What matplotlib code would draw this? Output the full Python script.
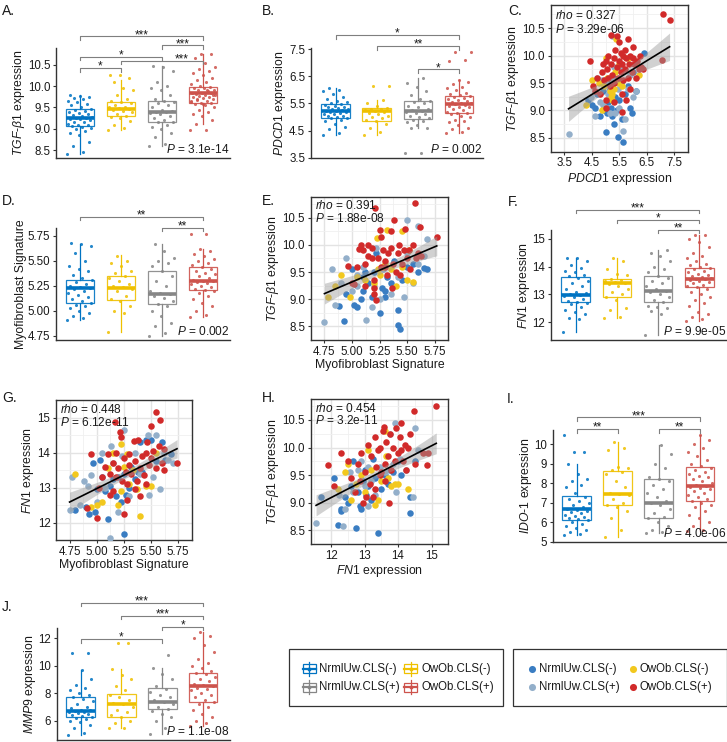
import numpy as np
import matplotlib
matplotlib.use("Agg")
import matplotlib.pyplot as plt
from matplotlib.patches import Rectangle

plt.rcParams['font.family'] = ['Liberation Sans', 'DejaVu Sans']
plt.rcParams['mathtext.fontset'] = 'custom'
plt.rcParams['mathtext.rm'] = 'Liberation Sans'
plt.rcParams['mathtext.it'] = 'Liberation Sans:italic'

# ---------------- data ----------------
groups = ['NrmlUw.CLS(-)', 'OwOb.CLS(-)', 'NrmlUw.CLS(+)', 'OwOb.CLS(+)']
box_colors = ['#0073C2', '#EFC000', '#868686', '#CD534C']
dot_colors = ['#3A7DC2', '#F2C81E', '#93AFCA', '#D12A2A']

# box stats per group: (whisker low, q1, median, q3, whisker high)
tgf_stats = [(8.42, 9.06, 9.25, 9.46, 9.79), (8.98, 9.29, 9.46, 9.64, 10.14),
             (8.59, 9.17, 9.40, 9.65, 10.48), (9.12, 9.60, 9.83, 9.97, 10.75)]
tgf_pts = [
    [8.42, 8.45, 8.6, 8.7, 8.85, 8.9, 8.95, 9.0, 9.02, 9.05, 9.06, 9.08, 9.1, 9.12, 9.15, 9.17, 9.2, 9.22, 9.23, 9.25,
     9.25, 9.27, 9.3, 9.32, 9.35, 9.37, 9.4, 9.42, 9.45, 9.46, 9.5, 9.55, 9.58, 9.62, 9.65, 9.7, 9.72, 9.75, 9.78, 9.79],
    [8.98, 9.02, 9.1, 9.18, 9.25, 9.28, 9.3, 9.35, 9.4, 9.42, 9.45, 9.46, 9.48, 9.5, 9.52, 9.55, 9.6, 9.62, 9.65, 9.7,
     9.8, 9.9, 9.95, 10.1, 10.2, 10.25, 10.25],
    [8.6, 8.65, 8.8, 8.9, 9.0, 9.05, 9.1, 9.15, 9.17, 9.2, 9.25, 9.3, 9.35, 9.38, 9.4, 9.4, 9.42, 9.45, 9.5, 9.55,
     9.6, 9.62, 9.65, 9.7, 9.8, 9.9, 9.95, 10.0, 10.1, 10.35, 10.45, 10.48],
    [8.98, 8.98, 9.12, 9.2, 9.3, 9.35, 9.4, 9.45, 9.5, 9.55, 9.58, 9.6, 9.6, 9.62, 9.65, 9.68, 9.7, 9.72, 9.75, 9.75,
     9.78, 9.8, 9.8, 9.82, 9.83, 9.85, 9.85, 9.88, 9.9, 9.92, 9.95, 9.96, 9.97, 10.0, 10.05, 10.1, 10.15, 10.2, 10.25,
     10.3, 10.35, 10.4, 10.45, 10.55, 10.65, 10.75, 10.75, 9.65, 9.9, 9.7, 9.8, 9.58],
]
tgf_sig = [(1, 4, '***'), (3, 4, '***'), (1, 3, '*'), (2, 4, '***'), (1, 2, '*')]
tgf_p = '3.1e-14'

pdcd1_stats = [(4.33, 4.98, 5.22, 5.46, 6.05), (4.33, 4.86, 5.22, 5.32, 5.62),
               (4.58, 4.91, 5.22, 5.59, 6.42), (4.40, 5.13, 5.48, 5.77, 6.36)]
pdcd1_pts = [
    [4.33, 4.4, 4.55, 4.65, 4.75, 4.85, 4.9, 4.95, 4.98, 5.0, 5.02, 5.05, 5.1, 5.12, 5.15, 5.18, 5.2, 5.22, 5.22, 5.25,
     5.28, 5.3, 5.32, 5.35, 5.38, 5.4, 5.45, 5.46, 5.5, 5.55, 5.6, 5.65, 5.75, 5.85, 5.95, 6.0, 6.05],
    [4.33, 4.45, 4.6, 4.75, 4.85, 4.9, 4.95, 5.0, 5.05, 5.1, 5.15, 5.2, 5.22, 5.25, 5.28, 5.3, 5.32, 5.4, 5.5, 5.62,
     6.15, 6.15],
    [3.67, 3.67, 4.58, 4.6, 4.7, 4.8, 4.85, 4.9, 4.95, 5.0, 5.05, 5.1, 5.15, 5.2, 5.22, 5.25, 5.3, 5.35, 5.4, 5.5,
     5.55, 5.6, 5.65, 5.8, 5.95, 6.1, 6.25, 6.42],
    [4.40, 4.45, 4.55, 4.6, 4.7, 4.8, 4.85, 4.9, 5.0, 5.05, 5.1, 5.13, 5.15, 5.2, 5.25, 5.3, 5.35, 5.38, 5.4, 5.45,
     5.48, 5.5, 5.52, 5.55, 5.6, 5.62, 5.65, 5.7, 5.75, 5.77, 5.8, 5.85, 5.9, 6.0, 6.05, 6.1, 6.2, 6.3, 6.36, 7.05,
     7.1, 7.4, 7.4],
]
pdcd1_sig = [(1, 4, '*'), (2, 4, '**'), (3, 4, '*')]
pdcd1_p = '0.002'

myo_stats = [(4.907, 5.08, 5.233, 5.313, 5.67), (4.79, 5.113, 5.233, 5.35, 5.557),
             (4.75, 5.063, 5.167, 5.397, 5.667), (4.94, 5.207, 5.297, 5.437, 5.623)]
myo_pts = [
    [4.91, 4.93, 4.95, 4.98, 5.0, 5.03, 5.05, 5.06, 5.08, 5.1, 5.12, 5.14, 5.16, 5.18, 5.2, 5.22, 5.23, 5.24, 5.25,
     5.27, 5.29, 5.31, 5.33, 5.36, 5.4, 5.42, 5.45, 5.5, 5.58, 5.65, 5.67, 5.68],
    [4.79, 4.98, 5.0, 5.05, 5.1, 5.12, 5.15, 5.2, 5.22, 5.24, 5.25, 5.27, 5.3, 5.33, 5.35, 5.38, 5.4, 5.45, 5.48,
     5.5, 5.55],
    [4.75, 4.78, 4.85, 4.88, 4.95, 5.0, 5.05, 5.07, 5.1, 5.13, 5.15, 5.17, 5.18, 5.2, 5.25, 5.3, 5.35, 5.4, 5.45,
     5.48, 5.5, 5.53, 5.6, 5.67],
    [4.94, 4.96, 5.0, 5.05, 5.08, 5.12, 5.15, 5.18, 5.2, 5.21, 5.22, 5.24, 5.25, 5.27, 5.28, 5.29, 5.3, 5.3, 5.31,
     5.33, 5.35, 5.37, 5.38, 5.4, 5.42, 5.44, 5.46, 5.48, 5.5, 5.52, 5.55, 5.57, 5.6, 5.62, 5.77, 5.77],
]
myo_sig = [(1, 4, '**'), (3, 4, '**')]
myo_p = '0.002'

fn1_stats = [(11.65, 12.73, 12.98, 13.64, 14.30), (12.16, 12.92, 13.40, 13.54, 14.30),
             (11.53, 12.71, 13.13, 13.66, 14.60), (12.04, 13.28, 13.55, 13.94, 15.14)]
fn1_pts = [
    [11.65, 12.1, 12.15, 12.3, 12.35, 12.45, 12.55, 12.65, 12.7, 12.73, 12.78, 12.85, 12.9, 12.95, 12.98, 13.0,
     13.05, 13.1, 13.2, 13.3, 13.4, 13.5, 13.6, 13.65, 13.7, 13.8, 13.85, 13.95, 14.05, 14.2, 14.3, 14.3],
    [12.16, 12.2, 12.45, 12.5, 12.8, 12.92, 13.0, 13.1, 13.2, 13.3, 13.38, 13.4, 13.45, 13.5, 13.52, 13.54, 13.7,
     13.75, 13.9, 14.2, 14.3],
    [11.53, 12.3, 12.4, 12.5, 12.55, 12.6, 12.71, 12.8, 12.9, 13.0, 13.1, 13.13, 13.2, 13.3, 13.4, 13.5, 13.6,
     13.66, 13.8, 13.9, 14.0, 14.2, 14.4, 14.5, 14.6],
    [12.04, 12.1, 12.2, 12.3, 12.35, 12.6, 12.7, 12.8, 12.9, 13.0, 13.1, 13.2, 13.28, 13.3, 13.35, 13.4, 13.45,
     13.5, 13.52, 13.55, 13.55, 13.6, 13.62, 13.65, 13.7, 13.75, 13.8, 13.85, 13.9, 13.94, 14.0, 14.05, 14.1, 14.2,
     14.3, 14.4, 14.5, 14.7, 14.9, 15.0, 15.14, 15.14],
]
fn1_sig = [(1, 4, '***'), (2, 4, '*'), (3, 4, '**')]
fn1_p = '9.9e-05'

ido_stats = [(5.36, 6.10, 6.66, 7.34, 8.98), (5.25, 6.88, 7.46, 8.61, 10.14),
             (5.44, 6.24, 7.00, 8.22, 9.97), (5.56, 7.08, 7.85, 8.83, 10.47)]
ido_pts = [
    [5.36, 5.4, 5.5, 5.6, 5.7, 5.8, 5.9, 6.0, 6.1, 6.15, 6.2, 6.3, 6.35, 6.4, 6.5, 6.55, 6.6, 6.65, 6.7, 6.8, 6.9,
     7.0, 7.1, 7.2, 7.3, 7.5, 7.8, 7.9, 8.1, 8.2, 8.5, 8.98, 9.6, 9.6, 10.45],
    [5.25, 5.6, 6.2, 6.6, 6.8, 6.9, 7.0, 7.2, 7.4, 7.46, 7.5, 7.8, 8.1, 8.5, 8.6, 8.7, 8.8, 8.85, 9.7, 9.8, 10.14],
    [5.44, 5.5, 5.6, 5.8, 6.0, 6.2, 6.3, 6.5, 6.7, 6.9, 7.0, 7.1, 7.3, 7.5, 7.7, 7.9, 8.1, 8.2, 8.3, 8.8, 9.0, 9.5,
     9.97],
    [5.56, 5.6, 5.8, 6.0, 6.2, 6.4, 6.6, 6.8, 6.9, 7.0, 7.08, 7.2, 7.3, 7.4, 7.5, 7.6, 7.7, 7.75, 7.8, 7.85, 7.9,
     8.0, 8.1, 8.2, 8.3, 8.4, 8.5, 8.6, 8.7, 8.8, 8.9, 9.0, 9.2, 9.4, 9.6, 9.8, 10.0, 10.2, 10.47],
]
ido_sig = [(1, 4, '***'), (1, 2, '**'), (3, 4, '**')]
ido_p = '4.0e-06'

mmp9_stats = [(4.92, 6.30, 6.67, 7.71, 9.70), (5.45, 6.30, 7.22, 7.93, 9.77),
              (5.04, 6.83, 7.34, 8.36, 9.82), (5.62, 7.34, 8.53, 9.46, 12.44)]
mmp9_pts = [
    [4.92, 5.1, 5.5, 5.7, 5.9, 6.0, 6.1, 6.2, 6.3, 6.35, 6.4, 6.5, 6.55, 6.6, 6.65, 6.7, 6.75, 6.8, 6.9, 7.0, 7.2,
     7.4, 7.6, 7.7, 7.9, 8.0, 8.2, 8.4, 8.6, 9.0, 9.7, 10.9, 10.9],
    [5.45, 5.5, 5.8, 6.0, 6.3, 6.4, 6.6, 6.8, 7.0, 7.2, 7.3, 7.5, 7.7, 7.9, 8.2, 8.5, 9.0, 9.3, 9.77, 11.65, 11.65],
    [5.04, 5.5, 6.0, 6.3, 6.5, 6.7, 6.83, 7.0, 7.2, 7.34, 7.5, 7.7, 7.9, 8.1, 8.3, 8.5, 9.0, 9.4, 9.82, 10.8],
    [5.62, 5.8, 6.0, 6.3, 6.5, 6.8, 7.0, 7.2, 7.34, 7.5, 7.7, 7.9, 8.0, 8.2, 8.3, 8.4, 8.5, 8.6, 8.7, 8.9, 9.0, 9.2,
     9.4, 9.46, 9.6, 9.8, 10.0, 10.2, 10.5, 11.0, 11.5, 12.0, 12.2, 12.44],
]
mmp9_sig = [(1, 4, '***'), (2, 4, '***'), (3, 4, '*'), (1, 3, '*')]
mmp9_p = '1.1e-08'

# scatter panels: (x, y) per group in order blue, yellow, light blue, red
c_pts = [
    [(4.35, 9.2), (4.5, 9.1), (4.6, 9.05), (4.7, 9.3), (4.8, 8.9), (4.9, 9.35), (4.95, 9.0), (5.0, 8.6), (5.05, 8.95),
     (5.1, 9.15), (5.15, 9.4), (5.2, 9.05), (5.25, 8.9), (5.3, 8.75), (5.35, 9.25), (5.4, 9.0), (5.45, 8.52),
     (5.5, 9.2), (5.55, 9.5), (5.6, 8.85), (5.65, 8.43), (5.7, 9.3), (5.8, 9.45), (5.9, 9.05), (5.95, 8.95),
     (6.0, 9.7), (6.1, 9.35), (6.3, 9.8), (6.4, 10.05), (5.05, 9.55), (5.3, 9.6)],
    [(4.3, 9.1), (4.5, 9.55), (4.75, 9.5), (4.85, 9.0), (4.95, 9.45), (5.0, 9.95), (5.05, 9.6), (5.15, 9.35),
     (5.2, 9.25), (5.25, 9.3), (5.3, 9.4), (5.35, 9.7), (5.38, 10.3), (5.45, 9.5), (5.5, 9.85), (5.6, 9.45),
     (6.1, 9.85), (6.2, 9.65), (5.8, 9.95), (5.25, 9.2)],
    [(3.65, 8.58), (4.45, 9.25), (4.6, 8.9), (4.7, 9.6), (4.8, 9.15), (4.9, 9.1), (5.0, 9.5), (5.1, 9.3), (5.2, 9.6),
     (5.25, 10.35), (5.35, 8.95), (5.4, 9.55), (5.5, 9.05), (5.55, 9.75), (5.65, 8.62), (5.7, 8.85), (5.8, 9.4),
     (5.9, 9.65), (6.0, 9.25), (6.1, 9.35), (4.85, 9.55), (5.15, 8.95), (5.3, 9.8), (5.45, 9.4)],
    [(4.42, 9.9), (4.55, 9.45), (4.6, 9.35), (4.7, 9.6), (4.8, 9.3), (4.85, 9.7), (4.9, 9.85), (4.95, 9.55),
     (5.0, 9.9), (5.0, 9.2), (5.05, 9.75), (5.1, 9.6), (5.1, 10.0), (5.15, 9.45), (5.2, 9.85), (5.2, 10.38),
     (5.25, 9.65), (5.3, 9.95), (5.3, 9.5), (5.35, 10.1), (5.4, 9.8), (5.42, 10.35), (5.45, 9.6), (5.48, 10.25),
     (5.5, 9.9), (5.55, 9.7), (5.55, 10.05), (5.6, 9.85), (5.6, 9.3), (5.62, 10.0), (5.65, 9.55), (5.7, 9.75),
     (5.7, 10.1), (5.75, 9.95), (5.8, 9.6), (5.8, 10.3), (5.85, 9.85), (5.9, 10.0), (5.9, 9.4), (5.95, 9.7),
     (6.0, 10.15), (6.0, 9.95), (6.05, 9.85), (6.1, 9.6), (6.15, 9.9), (6.2, 9.75), (6.25, 10.0), (6.3, 9.8),
     (5.6, 8.97), (5.3, 9.15), (5.0, 9.05), (7.08, 10.76), (7.33, 10.65), (7.04, 9.92), (6.35, 9.75), (5.75, 9.2)],
]
c_fit = (0.307, 7.91)
c_rho, c_p = '0.327', '3.29e-06'

e_pts = [
    [(4.88, 8.88), (4.93, 8.6), (4.95, 9.1), (5.02, 8.9), (5.05, 8.85), (5.08, 9.0), (5.1, 9.15), (5.12, 9.5),
     (5.15, 9.3), (5.18, 9.05), (5.2, 9.5), (5.22, 9.85), (5.25, 8.75), (5.27, 9.2), (5.3, 9.15), (5.32, 9.4),
     (5.35, 9.3), (5.38, 9.7), (5.42, 8.81), (5.42, 8.52), (5.44, 8.45), (5.45, 9.35), (5.5, 9.6), (5.55, 9.65),
     (5.6, 9.5), (5.65, 9.58), (5.68, 9.55), (5.0, 9.55), (5.1, 9.4), (5.3, 9.05)],
    [(4.78, 9.05), (4.85, 9.25), (4.9, 9.45), (4.98, 9.05), (5.05, 9.4), (5.12, 9.35), (5.2, 9.3), (5.23, 10.12),
     (5.24, 9.55), (5.25, 9.45), (5.3, 9.65), (5.32, 10.27), (5.35, 9.55), (5.4, 9.25), (5.45, 9.6), (5.5, 9.35),
     (5.52, 9.9), (5.55, 9.32), (5.45, 10.25), (5.28, 9.6)],
    [(4.75, 8.58), (4.82, 9.55), (4.85, 8.9), (4.9, 9.3), (4.95, 9.75), (5.0, 9.15), (5.05, 9.45), (5.1, 9.6),
     (5.13, 8.62), (5.18, 8.85), (5.2, 9.25), (5.25, 9.0), (5.28, 9.55), (5.35, 9.1), (5.42, 9.4), (5.47, 9.05),
     (5.5, 9.85), (5.5, 10.45), (5.55, 9.3), (5.6, 9.65), (5.6, 10.35), (5.65, 9.8), (5.68, 10.1), (5.22, 9.95),
     (5.05, 9.25)],
    [(4.96, 9.62), (5.0, 9.3), (5.02, 9.28), (5.05, 9.6), (5.08, 10.0), (5.1, 9.9), (5.12, 9.65), (5.15, 9.8),
     (5.15, 10.0), (5.18, 9.95), (5.2, 9.2), (5.2, 9.1), (5.21, 10.67), (5.22, 8.98), (5.24, 9.75), (5.25, 10.27),
     (5.26, 10.15), (5.28, 9.9), (5.3, 9.6), (5.3, 9.7), (5.32, 9.45), (5.33, 9.85), (5.35, 10.25), (5.35, 9.95),
     (5.37, 9.65), (5.38, 10.45), (5.4, 9.5), (5.42, 9.85), (5.43, 10.0), (5.45, 9.65), (5.47, 9.9), (5.48, 10.3),
     (5.5, 9.75), (5.52, 9.9), (5.53, 9.55), (5.55, 10.0), (5.57, 10.77), (5.58, 9.75), (5.6, 9.85), (5.62, 10.32),
     (5.63, 9.8), (5.77, 10.14), (5.2, 9.35), (5.18, 9.75), (5.26, 9.6), (5.06, 9.92), (5.12, 9.25), (5.44, 9.45),
     (5.36, 9.2)],
]
e_fit = (0.86, 5.018)
e_rho, e_p = '0.391', '1.88e-08'

g_pts = [
    [(4.8, 12.35), (4.9, 12.45), (4.93, 12.25), (4.98, 12.3), (5.0, 12.95), (5.03, 13.8), (5.05, 13.3),
     (5.08, 12.9), (5.1, 12.1), (5.12, 13.05), (5.15, 13.25), (5.18, 12.75), (5.2, 13.3), (5.22, 12.6),
     (5.25, 11.68), (5.27, 12.8), (5.3, 13.0), (5.32, 13.6), (5.35, 13.25), (5.4, 14.3), (5.42, 13.45),
     (5.45, 14.35), (5.5, 14.35), (5.55, 13.75), (5.6, 14.3), (5.63, 13.8), (5.68, 13.95), (4.97, 13.7),
     (5.38, 13.45), (5.25, 13.4)],
    [(4.8, 13.4), (4.95, 12.45), (5.0, 12.5), (5.05, 12.6), (5.1, 13.55), (5.15, 14.0), (5.2, 12.5), (5.22, 14.25),
     (5.25, 13.6), (5.28, 13.95), (5.33, 13.5), (5.37, 12.95), (5.4, 12.2), (5.45, 13.05), (5.5, 13.05),
     (5.55, 14.0), (5.3, 13.1), (5.22, 12.9)],
    [(4.75, 12.35), (4.77, 13.3), (4.85, 12.5), (4.88, 13.2), (4.92, 13.05), (4.95, 13.35), (5.0, 12.6),
     (5.05, 14.0), (5.08, 13.0), (5.12, 11.55), (5.13, 14.2), (5.15, 13.7), (5.2, 12.3), (5.23, 13.9), (5.3, 12.75),
     (5.35, 14.0), (5.4, 13.4), (5.47, 14.5), (5.48, 12.8), (5.52, 13.3), (5.55, 14.5), (5.58, 12.95), (5.62, 14.0),
     (5.66, 13.8), (5.7, 13.7), (5.25, 14.65)],
    [(4.91, 12.41), (4.95, 13.95), (5.0, 12.14), (5.02, 13.0), (5.05, 13.3), (5.08, 13.6), (5.1, 13.95),
     (5.12, 13.4), (5.15, 13.7), (5.15, 12.9), (5.17, 14.86), (5.18, 14.0), (5.2, 13.55), (5.21, 14.59),
     (5.22, 14.45), (5.23, 13.2), (5.25, 13.85), (5.25, 12.23), (5.27, 13.45), (5.28, 13.1), (5.3, 13.65),
     (5.3, 13.95), (5.32, 13.4), (5.34, 14.34), (5.35, 13.75), (5.37, 13.2), (5.38, 14.35), (5.4, 13.55),
     (5.4, 12.75), (5.42, 13.9), (5.44, 13.35), (5.45, 14.0), (5.46, 14.3), (5.48, 13.65), (5.5, 14.75),
     (5.5, 13.85), (5.52, 14.05), (5.55, 15.17), (5.55, 13.55), (5.57, 14.2), (5.58, 14.94), (5.6, 13.7),
     (5.62, 13.5), (5.62, 14.1), (5.74, 13.7), (5.18, 13.3), (5.28, 12.65), (5.35, 12.95), (5.12, 12.8),
     (5.45, 13.1)],
]
g_fit = (1.539, 5.274)
g_rho, g_p = '0.448', '6.12e-11'

h_pts = [
    [(11.7, 9.1), (12.1, 9.45), (12.2, 8.6), (12.3, 8.85), (12.4, 9.1), (12.5, 9.0), (12.6, 9.3), (12.65, 9.75),
     (12.75, 8.55), (12.8, 9.2), (12.85, 8.95), (12.9, 8.88), (12.95, 9.4), (13.0, 9.6), (13.05, 9.15), (13.1, 9.3),
     (13.2, 9.05), (13.3, 9.45), (13.4, 8.45), (13.5, 9.25), (13.6, 9.5), (13.7, 9.35), (13.75, 9.6), (13.85, 9.55),
     (14.0, 9.75), (14.1, 9.5), (14.35, 8.82), (14.35, 9.1), (14.5, 9.75), (12.3, 8.88), (13.25, 9.8)],
    [(12.2, 9.25), (12.4, 9.55), (12.5, 9.7), (12.6, 9.05), (12.75, 9.35), (12.9, 9.5), (13.0, 9.2), (13.1, 9.95),
     (13.2, 9.6), (13.3, 8.97), (13.4, 9.05), (13.5, 9.4), (13.6, 10.3), (13.65, 9.85), (13.8, 9.3), (13.9, 9.35),
     (14.0, 9.35), (14.3, 9.25), (13.7, 9.45)],
    [(11.55, 8.63), (12.25, 9.15), (12.35, 8.58), (12.4, 8.88), (12.55, 9.55), (12.65, 9.2), (12.8, 9.6),
     (12.9, 9.75), (13.0, 9.3), (13.1, 9.65), (13.2, 9.4), (13.3, 9.15), (13.45, 9.65), (13.6, 9.55), (13.75, 10.25),
     (13.85, 9.7), (13.95, 9.2), (14.05, 9.8), (14.25, 9.6), (14.45, 9.1), (14.5, 10.35), (14.6, 9.95),
     (13.9, 10.45), (13.1, 8.95)],
    [(11.9, 9.69), (12.1, 9.3), (12.3, 9.9), (12.5, 9.75), (12.6, 9.45), (12.7, 9.2), (12.8, 9.7), (12.9, 9.9),
     (12.95, 9.0), (13.0, 9.55), (13.1, 10.05), (13.15, 9.35), (13.2, 9.85), (13.25, 9.1), (13.3, 10.2),
     (13.35, 9.65), (13.4, 9.95), (13.45, 10.0), (13.5, 9.55), (13.55, 10.3), (13.57, 10.38), (13.6, 9.7),
     (13.62, 9.4), (13.65, 10.1), (13.7, 9.85), (13.72, 9.0), (13.75, 10.25), (13.8, 9.6), (13.85, 10.0),
     (13.9, 9.75), (13.95, 10.35), (14.0, 9.9), (14.05, 10.2), (14.1, 9.95), (14.15, 9.75), (14.2, 10.05),
     (14.25, 9.6), (14.3, 10.0), (14.35, 10.25), (14.48, 10.67), (14.5, 9.7), (14.75, 9.9), (14.87, 9.69),
     (14.9, 9.9), (15.14, 10.76), (13.3, 9.25), (13.45, 9.5), (12.85, 9.4), (13.05, 9.1), (14.1, 10.45)],
]
h_fit = (0.3127, 5.343)
h_rho, h_p = '0.454', '3.2e-11'

# ---------------- layout ----------------
W, H = 727, 742
fig = plt.figure(figsize=(W / 100, H / 100), dpi=100)

TGF_LAB = r'$\mathit{TGF}$-$\mathit{\beta1}$ expression'
TXT = '#1a1a1a'
AXC = '#333333'


def px_axes(left, right, top, bottom):
    return fig.add_axes([left / W, 1 - bottom / H, (right - left) / W, (bottom - top) / H])


def box_panel(box, xlim, ylim, yticks, fmt, stats, pts, sig, sig_pos, ylabel, pval):
    ax = px_axes(*box)
    bst = [dict(whislo=s[0], q1=s[1], med=s[2], q3=s[3], whishi=s[4], fliers=[]) for s in stats]
    res = ax.bxp(bst, positions=[1, 2, 3, 4], widths=0.7, showcaps=False, showfliers=False,
                 patch_artist=True, manage_ticks=False)
    for i, c in enumerate(box_colors):
        res['boxes'][i].set(facecolor='white', edgecolor=c, linewidth=0.9, alpha=0.9, zorder=2)
        res['medians'][i].set(color=c, linewidth=2.6, zorder=4)
        for w in res['whiskers'][2 * i:2 * i + 2]:
            w.set(color=c, linewidth=0.9, zorder=2)
        vals = np.array(pts[i])
        off = ((np.arange(len(vals)) * 0.618034) % 1 - 0.5) * 0.62
        ax.scatter(i + 1 + off, vals, s=5, color=c, alpha=0.85, linewidths=0, zorder=3)
    ax.set_xlim(*xlim)
    ax.set_ylim(*ylim)
    ax.set_xticks([])
    ax.set_yticks(yticks)
    ax.set_yticklabels([fmt % v for v in yticks])
    ax.tick_params(axis='y', length=2.5, width=0.8, color=AXC, labelsize=8.3, labelcolor=TXT, pad=1.5)
    for s in ['top', 'right']:
        ax.spines[s].set_visible(False)
    for s in ['left', 'bottom']:
        ax.spines[s].set(color=AXC, linewidth=1.0)
    ax.set_ylabel(ylabel, fontsize=8.8, color=TXT, labelpad=0.5)
    tip = 3.5 / (box[3] - box[2]) * (ylim[1] - ylim[0])
    for (a, b, lab), (y, lx) in zip(sig, sig_pos):
        ax.plot([a, a, b, b], [y - tip, y, y, y - tip], color='#7f7f7f', lw=0.8, clip_on=False)
        tx = (a + b) / 2 if lx is None else lx
        ax.annotate(lab, xy=(tx, y), xytext=(0, -1.2), textcoords='offset points',
                    ha='center', va='baseline', fontsize=8.5, color=TXT, annotation_clip=False)
    ax.text(0.995, 0.045, r'$\mathit{P}$ = ' + pval, transform=ax.transAxes, ha='right', va='baseline',
            fontsize=8.6, color=TXT)
    return ax


def scatter_panel(box, xlim, ylim, xticks, yticks, xfmt, yfmt, pts, fit, rho, pval, xlabel, ylabel, ty):
    ax = px_axes(*box)
    ax.set_facecolor('white')
    for i in [0, 2, 1, 3]:
        arr = np.array(pts[i])
        ax.scatter(arr[:, 0], arr[:, 1], s=22, color=dot_colors[i], linewidths=0, zorder=3)
    allp = np.concatenate([np.array(p) for p in pts])
    x, y = allp[:, 0], allp[:, 1]
    slope, icpt = fit
    n = len(x)
    se = np.sqrt(np.sum((y - (icpt + slope * x)) ** 2) / (n - 2))
    xx = np.linspace(x.min(), x.max(), 100)
    yy = icpt + slope * xx
    band = 1.97 * se * np.sqrt(1 / n + (xx - x.mean()) ** 2 / np.sum((x - x.mean()) ** 2))
    ax.fill_between(xx, yy - band, yy + band, color='#9a9a9a', alpha=0.45, lw=0, zorder=4)
    ax.plot(xx, yy, color='black', lw=1.2, zorder=5)
    ax.set_xlim(*xlim)
    ax.set_ylim(*ylim)
    ax.set_xticks(xticks)
    ax.set_xticklabels([xfmt % v for v in xticks])
    ax.set_yticks(yticks)
    ax.set_yticklabels([yfmt % v for v in yticks])
    dx = (xticks[1] - xticks[0]) / 2
    dy = (yticks[1] - yticks[0]) / 2
    ax.set_xticks([v + dx for v in xticks[:-1]] + [xticks[0] - dx, xticks[-1] + dx], minor=True)
    ax.set_yticks([v + dy for v in yticks[:-1]] + [yticks[0] - dy, yticks[-1] + dy], minor=True)
    ax.grid(which='major', color='#E3E3E3', lw=1.0)
    ax.grid(which='minor', color='#F0F0F0', lw=0.6)
    ax.set_axisbelow(True)
    ax.tick_params(which='minor', length=0)
    ax.tick_params(which='major', length=2.5, width=0.8, color=AXC, labelsize=8.3, labelcolor=TXT, pad=1.5)
    for s in ax.spines.values():
        s.set(color=AXC, linewidth=1.0)
    ax.set_xlabel(xlabel, fontsize=8.8, color=TXT, labelpad=1)
    ax.set_ylabel(ylabel, fontsize=8.8, color=TXT, labelpad=1)
    ax.text(0.03, ty[0], r'$\mathit{rho}$ = ' + rho, transform=ax.transAxes, va='center', fontsize=8.6,
            color=TXT, zorder=6)
    ax.text(0.03, ty[1], r'$\mathit{P}$ = ' + pval, transform=ax.transAxes, va='center', fontsize=8.6,
            color=TXT, zorder=6)
    return ax


box_panel((56, 230, 48, 158), (0.415, 4.66), (8.32, 10.89), [8.5, 9.0, 9.5, 10.0, 10.5], '%.1f',
          tgf_stats, tgf_pts, tgf_sig,
          [(11.16, None), (10.95, None), (10.69, None), (10.59, 3.48), (10.42, None)], TGF_LAB, tgf_p)
box_panel((310.7, 483, 47.7, 158.3), (0.39, 4.585), (3.48, 7.55), [3.5, 4.5, 5.5, 6.5, 7.5], '%.1f',
          pdcd1_stats, pdcd1_pts, pdcd1_sig, [(8.01, None), (7.61, None), (6.75, None)],
          r'$\mathit{PDCD1}$ expression', pdcd1_p)
scatter_panel((550.7, 688, 5, 151.7), (3.57, 7.55), (8.29, 10.92), [3.5, 4.5, 5.5, 6.5, 7.5],
              [8.5, 9.0, 9.5, 10.0, 10.5], '%.1f', '%.1f', c_pts, c_fit, c_rho, c_p,
              r'$\mathit{PDCD1}$ expression', TGF_LAB, (0.93, 0.83))
box_panel((56, 230, 228, 340), (0.415, 4.66), (4.707, 5.83), [4.75, 5.0, 5.25, 5.5, 5.75], '%.2f',
          myo_stats, myo_pts, myo_sig, [(5.943, None), (5.833, None)], 'Myofibroblast Signature', myo_p)
scatter_panel((310.7, 448.3, 197, 340), (4.707, 5.823), (8.335, 10.88), [4.75, 5.0, 5.25, 5.5, 5.75],
              [8.5, 9.0, 9.5, 10.0, 10.5], '%.2f', '%.1f', e_pts, e_fit, e_rho, e_p,
              'Myofibroblast Signature', TGF_LAB, (0.944, 0.85))
box_panel((550.7, 726.7, 230, 340), (0.39, 4.67), (11.36, 15.32), [12, 13, 14, 15], '%d',
          fn1_stats, fn1_pts, fn1_sig, [(16.05, None), (15.69, None), (15.32, None)],
          r'$\mathit{FN1}$ expression', fn1_p)
scatter_panel((56, 191.7, 400, 540), (4.69, 5.78), (11.5, 15.35), [4.75, 5.0, 5.25, 5.5, 5.75],
              [12, 13, 14, 15], '%.2f', '%d', g_pts, g_fit, g_rho, g_p,
              'Myofibroblast Signature', r'$\mathit{FN1}$ expression', (0.93, 0.84))
scatter_panel((310.7, 448.3, 399, 544.3), (11.39, 15.39), (8.32, 10.88), [12, 13, 14, 15],
              [8.5, 9.0, 9.5, 10.0, 10.5], '%d', '%.1f', h_pts, h_fit, h_rho, h_p,
              r'$\mathit{FN1}$ expression', TGF_LAB, (0.936, 0.85))
box_panel((552.7, 727, 430, 542.3), (0.415, 4.66), (4.98, 10.73), [5, 6, 7, 8, 9, 10], '%d',
          ido_stats, ido_pts, ido_sig, [(11.38, None), (10.77, None), (10.77, None)],
          r'$\mathit{IDO}$-$\mathit{1}$ expression', ido_p)
box_panel((56.7, 230, 628, 740), (0.415, 4.66), (4.59, 12.75), [6, 8, 10, 12], '%d',
          mmp9_stats, mmp9_pts, mmp9_sig, [(14.6, None), (13.65, None), (12.85, None), (11.93, None)],
          r'$\mathit{MMP9}$ expression', mmp9_p)

# overlay in pixel coordinates for panel letters and legends
ov = fig.add_axes([0, 0, 1, 1], zorder=10)
ov.set_xlim(0, W)
ov.set_ylim(H, 0)
ov.axis('off')
ov.patch.set_alpha(0)

letters = [('A.', 2, 4), ('B.', 262, 4), ('C.', 508, 4), ('D.', 2, 194), ('E.', 262, 194), ('F.', 508, 195),
           ('G.', 2, 391), ('H.', 262, 391), ('I.', 507, 392), ('J.', 2, 600)]
for lab, lx, ly in letters:
    ov.text(lx, ly, lab, ha='left', va='top', fontsize=10, color=TXT)

# legend 1: box keys
ov.add_patch(Rectangle((289.3, 649.3), 214, 56.4, fill=False, edgecolor=AXC, lw=0.9))
key_x = [309.2, 410.5]
txt_x = [319.3, 421.0]
row_y = [668.7, 687.3]
for i, (g, c) in enumerate(zip(groups, box_colors)):
    cx, ry = key_x[i % 2], row_y[i // 2]
    ov.plot([cx, cx], [ry - 7, ry + 7], color=c, lw=0.9)
    ov.add_patch(Rectangle((cx - 6.5, ry - 4.5), 13, 9, facecolor='white', edgecolor=c, lw=0.9))
    ov.plot([cx - 6.5, cx + 6.5], [ry, ry], color=c, lw=1.6)
    ov.scatter([cx], [ry], s=8, color=c, linewidths=0, zorder=5)
    ov.text(txt_x[i % 2], ry, g, ha='left', va='center', fontsize=8.3, color=TXT)

# legend 2: point keys
ov.add_patch(Rectangle((512.7, 649.3), 214, 56.4, fill=False, edgecolor=AXC, lw=0.9))
dot_x = [531.7, 633.3]
dtxt_x = [539.3, 640.0]
for i, (g, c) in enumerate(zip(groups, dot_colors)):
    cx, ry = dot_x[i % 2], row_y[i // 2]
    ov.scatter([cx], [ry], s=26, color=c, linewidths=0)
    ov.text(dtxt_x[i % 2], ry, g, ha='left', va='center', fontsize=8.3, color=TXT)

fig.savefig('out.png', dpi=100)
